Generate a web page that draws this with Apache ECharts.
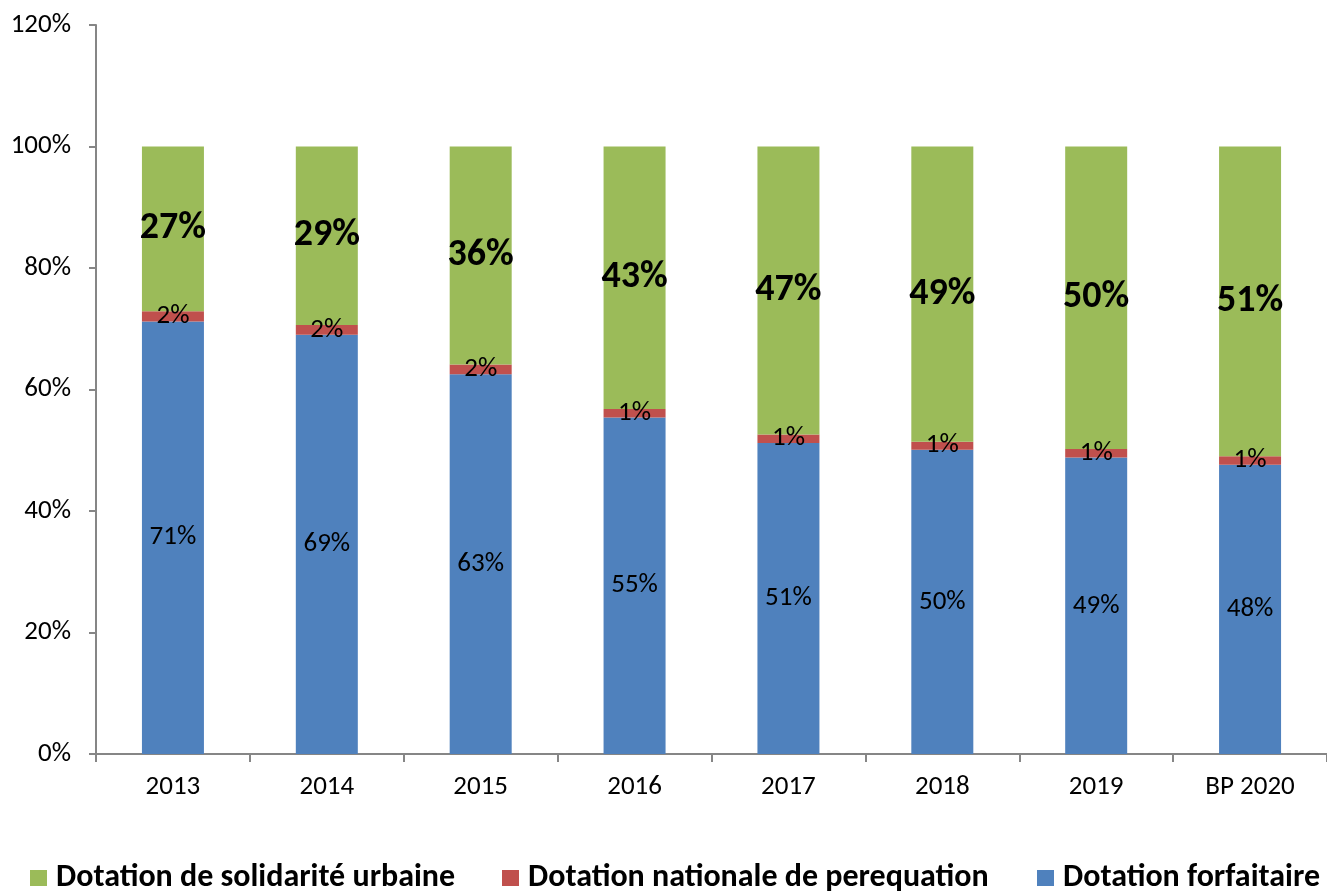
<!DOCTYPE html>
<html>
<head>
<meta charset="utf-8">
<script src="https://cdn.jsdelivr.net/npm/echarts@6/dist/echarts.min.js"></script>
<style>
  html, body { margin: 0; padding: 0; background: #fff; }
  #chart { width: 1327px; height: 892px; }
</style>
</head>
<body>
<div id="chart"></div>
<script>
// Répartition des dotations (% du total)
const years = ['2013', '2014', '2015', '2016', '2017', '2018', '2019', 'BP 2020'];
const forfaitaire = [71.2, 69.0, 62.5, 55.4, 51.2, 50.1, 48.8, 47.6];
const perequation = [1.7, 1.6, 1.6, 1.4, 1.4, 1.3, 1.4, 1.4];
const solidarite = [27.1, 29.4, 35.9, 43.2, 47.4, 48.6, 49.8, 51.0];
const yTicks = [0, 20, 40, 60, 80, 100, 120];

const NAME_DSU = 'Dotation de solidarité urbaine';
const NAME_DNP = 'Dotation nationale de perequation';
const NAME_DF = 'Dotation forfaitaire';

const FONT = 'Carlito, Calibri, Lato, sans-serif';
const AXIS_COLOR = '#868686';
const pct = p => Math.round(p.value) + '%';

const chart = echarts.init(document.getElementById('chart'));

function legendItem(name, left) {
  return {
    data: [name],
    left: left,
    top: 857,
    itemWidth: 17,
    itemHeight: 16,
    icon: 'rect',
    itemGap: 0,
    textStyle: { fontFamily: FONT, fontSize: 32, fontWeight: 'bold', color: '#000', padding: [0, 0, 0, 4] },
    selectedMode: false
  };
}

chart.setOption({
  animation: false,
  backgroundColor: '#fff',
  textStyle: { fontFamily: FONT },
  grid: { left: 96, top: 25, width: 1235, height: 729, containLabel: false },
  legend: [
    legendItem(NAME_DSU, 25),
    legendItem(NAME_DNP, 497),
    legendItem(NAME_DF, 1032)
  ],
  xAxis: {
    type: 'category',
    data: years,
    axisLine: { lineStyle: { color: AXIS_COLOR, width: 2 } },
    axisTick: { show: true, length: 8, lineStyle: { color: AXIS_COLOR, width: 2 } },
    axisLabel: { fontFamily: FONT, fontSize: 27, color: '#000', margin: 20 }
  },
  yAxis: {
    type: 'value',
    min: yTicks[0],
    max: yTicks[yTicks.length - 1],
    interval: yTicks[1] - yTicks[0],
    splitLine: { show: false },
    axisLine: { show: true, lineStyle: { color: AXIS_COLOR, width: 2 } },
    axisTick: { show: true, length: 7, lineStyle: { color: AXIS_COLOR, width: 2 } },
    axisLabel: { fontFamily: FONT, fontSize: 27, color: '#000', margin: 25, formatter: '{value}%' }
  },
  series: [
    {
      name: NAME_DF,
      type: 'bar',
      stack: 'total',
      barWidth: 62,
      data: forfaitaire,
      itemStyle: { color: '#4F81BD' },
      label: { show: true, position: 'inside', formatter: pct, fontFamily: FONT, fontSize: 27, color: '#000' }
    },
    {
      name: NAME_DNP,
      type: 'bar',
      stack: 'total',
      barWidth: 62,
      data: perequation,
      itemStyle: { color: '#C0504D' },
      label: { show: true, position: 'inside', formatter: pct, fontFamily: FONT, fontSize: 27, color: '#000' }
    },
    {
      name: NAME_DSU,
      type: 'bar',
      stack: 'total',
      barWidth: 62,
      data: solidarite,
      itemStyle: { color: '#9BBB59' },
      label: { show: true, position: 'inside', formatter: pct, fontFamily: FONT, fontSize: 38, fontWeight: 'bold', color: '#000' }
    }
  ]
});
</script>
</body>
</html>
